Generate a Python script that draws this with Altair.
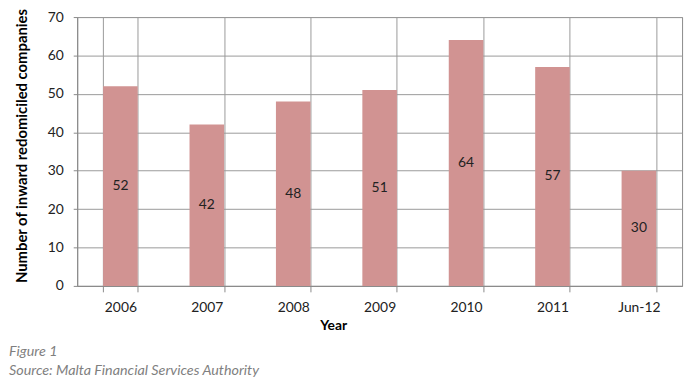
import altair as alt
import pandas as pd

years = ["2006", "2007", "2008", "2009", "2010", "2011", "Jun-12"]
counts = [52, 42, 48, 51, 64, 57, 30]

df = pd.DataFrame({"Year": years, "Count": counts})
df["Half"] = df["Count"] / 2

FONT = "Lato"
yticks = [0, 10, 20, 30, 40, 50, 60, 70]

x_axis = alt.Axis(title="Year", labelAngle=0, tickBand="extent",
                  grid=True, gridColor="#9a9a9a", domainColor="#8a8a8a",
                  tickColor="#8a8a8a", tickSize=6, labelPadding=9,
                  labelFontSize=14, labelColor="#222222", labelFont=FONT,
                  titleFont=FONT, titleFontSize=14, titleFontWeight="bold",
                  titleColor="#000000", titleX=259, titleY=40,
                  titleBaseline="middle")
y_axis = alt.Axis(title="Number of inward redomiciled companies",
                  values=yticks, labelOverlap=False, grid=True,
                  gridColor="#9a9a9a", domainColor="#8a8a8a",
                  tickColor="#8a8a8a", tickSize=4, labelPadding=10,
                  labelFontSize=14, labelColor="#222222", labelFont=FONT,
                  titleFont=FONT, titleFontSize=15, titleFontWeight="bold",
                  titleColor="#000000", titleX=-56, titleY=130,
                  titleBaseline="middle")
x_scale = alt.Scale(paddingInner=0.6, paddingOuter=0.3)
y_scale = alt.Scale(domain=[0, 70], nice=False)

base = alt.Chart(df)

bars = base.mark_bar(color="#d19392").encode(
    x=alt.X("Year:N", sort=years, scale=x_scale, axis=x_axis),
    y=alt.Y("Count:Q", scale=y_scale, axis=y_axis),
)

labels = base.mark_text(font=FONT, fontSize=14, color="#222222").encode(
    x=alt.X("Year:N", sort=years, scale=x_scale, axis=x_axis),
    y=alt.Y("Half:Q", scale=y_scale, axis=y_axis),
    text=alt.Text("Count:Q"),
)

chart = (bars + labels).properties(
    width=612, height=272,
    autosize=alt.AutoSizeParams(type="none"),
    padding={"left": 70, "top": 7, "right": 7, "bottom": 90},
    title=alt.TitleParams(
        text=["Figure 1", "Source: Malta Financial Services Authority"],
        orient="bottom", anchor="start", frame="group", dx=-69,
        font=FONT, fontSize=14.5, fontStyle="italic", fontWeight="normal",
        color="#7f7f7f", lineHeight=19, offset=13,
    ),
).configure_view(stroke="#8a8a8a", strokeWidth=1)

chart.save("out.html", embed_options={"renderer": "svg", "actions": False})
